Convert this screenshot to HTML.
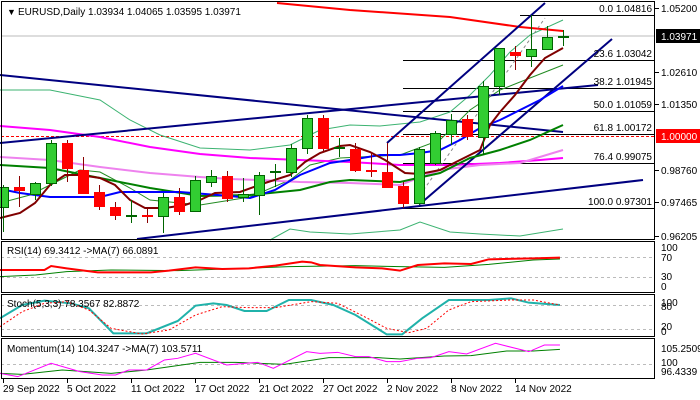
<!DOCTYPE html>
<html><head><meta charset="utf-8"><style>
html,body{margin:0;padding:0;background:#fff;}
svg{display:block;font-family:"Liberation Sans",sans-serif;font-size:10px;}
</style></head><body>
<svg width="700" height="400" viewBox="0 0 700 400" xmlns="http://www.w3.org/2000/svg">
<rect width="700" height="400" fill="#fff"/>
<g fill="none">
<line x1="1" y1="36" x2="655" y2="36" stroke="#bbb" stroke-width="1"/>
<line x1="1" y1="136.5" x2="655" y2="136.5" stroke="#f00" stroke-dasharray="3,2"/>
<g stroke="#000" stroke-width="1">
<line x1="520" y1="15.5" x2="655" y2="15.5"/>
<line x1="403" y1="60.5" x2="655" y2="60.5"/>
<line x1="403" y1="88.5" x2="655" y2="88.5"/>
<line x1="403" y1="111.5" x2="655" y2="111.5"/>
<line x1="403" y1="134.5" x2="655" y2="134.5"/>
<line x1="403" y1="163.5" x2="655" y2="163.5"/>
<line x1="403" y1="208.5" x2="655" y2="208.5"/>
</g>
<g stroke="#3cb371" stroke-width="1">
<polyline points="0,90 50,90 100,100 130,120 160,135 200,148 250,150 290,145 320,130 350,125 380,126 420,122 450,112 470,95 490,75 510,52 530,35 563,20"/>
<polyline points="270,240 290,229 310,232 350,234 400,230 420,222 450,232 480,234 520,236 563,229"/>
</g>
<polyline stroke="#228b22" stroke-width="1" points="0,203 30,195 60,180 80,170 100,172 130,188 150,200 200,205 250,197 290,180 310,165 340,158 400,155 440,140 470,110 500,90 530,78 563,65"/>
<polyline stroke="#ff00ff" stroke-width="2" points="0,126 50,130 100,137 150,147 200,154 250,158 300,160 350,162 400,165 450,165 500,163 540,160 563,158"/>
<polyline stroke="#ee82ee" stroke-width="2" points="0,157 50,160 100,167 150,173 200,177 230,179 260,180 300,182 350,183 400,185 440,170 480,165 520,163 563,150"/>
<polyline stroke="#f00" stroke-width="2" points="277,3 350,10 450,17 520,27 563,31"/>
<g stroke="#000080" stroke-width="2">
<line x1="0" y1="75" x2="563" y2="132"/>
<line x1="0" y1="143" x2="598" y2="85"/>
<line x1="137" y1="239" x2="643" y2="180"/>
<line x1="387" y1="143" x2="545" y2="3"/>
<line x1="420" y1="204" x2="612" y2="39"/>
</g>
<line x1="420" y1="195" x2="545" y2="18" stroke="#888" stroke-dasharray="3,3"/>
<polyline stroke="#008000" stroke-width="2" points="0,165 50,168 100,178 150,188 200,196 250,195 300,190 330,182 350,180 400,182 440,173 470,158 500,150 530,140 563,125"/>
<polyline stroke="#0000ff" stroke-width="2" points="0,189 20,193 50,197 100,197 120,192 180,192 230,196 250,198 275,190 300,175 330,163 350,160 380,155 400,155 420,153 440,150 460,140 480,128 500,120 520,110 540,100 563,86"/>
<polyline stroke="#800000" stroke-width="2" points="0,218 20,213 35,203 50,185 65,175 80,175 100,178 115,185 130,200 145,208 165,208 185,205 200,200 215,193 240,192 265,183 290,175 305,162 320,153 340,146 350,145 370,152 385,160 405,173 420,174 440,170 460,160 480,150 490,125 500,112 515,95 530,75 545,58 563,48"/>
</g>
<g stroke-width="1">
<g stroke="#006400">
<line x1="3.5" y1="185" x2="3.5" y2="232"/><line x1="35.5" y1="182" x2="35.5" y2="200"/><line x1="51.5" y1="140" x2="51.5" y2="186"/>
<line x1="131.5" y1="200" x2="131.5" y2="223"/><line x1="163.5" y1="193" x2="163.5" y2="233"/><line x1="195.5" y1="176" x2="195.5" y2="212"/>
<line x1="211.5" y1="170" x2="211.5" y2="187"/><line x1="243.5" y1="178" x2="243.5" y2="202"/><line x1="259.5" y1="172" x2="259.5" y2="215"/>
<line x1="275.5" y1="164" x2="275.5" y2="187"/><line x1="291.5" y1="144" x2="291.5" y2="177"/><line x1="307.5" y1="115" x2="307.5" y2="154"/>
<line x1="339.5" y1="138" x2="339.5" y2="157"/><line x1="419.5" y1="147" x2="419.5" y2="205"/><line x1="435.5" y1="131" x2="435.5" y2="165"/>
<line x1="451.5" y1="114" x2="451.5" y2="145"/><line x1="483.5" y1="81" x2="483.5" y2="155"/><line x1="499.5" y1="48" x2="499.5" y2="95"/>
<line x1="531.5" y1="15" x2="531.5" y2="67"/><line x1="547.5" y1="26" x2="547.5" y2="50"/><line x1="563.5" y1="30" x2="563.5" y2="46"/>
</g>
<g stroke="#8b0000">
<line x1="19.5" y1="176" x2="19.5" y2="207"/><line x1="67.5" y1="140" x2="67.5" y2="182"/><line x1="83.5" y1="157" x2="83.5" y2="193"/>
<line x1="99.5" y1="185" x2="99.5" y2="210"/><line x1="115.5" y1="202" x2="115.5" y2="220"/><line x1="147.5" y1="208" x2="147.5" y2="223"/>
<line x1="179.5" y1="188" x2="179.5" y2="215"/><line x1="227.5" y1="171" x2="227.5" y2="202"/><line x1="323.5" y1="115" x2="323.5" y2="152"/>
<line x1="355.5" y1="143" x2="355.5" y2="172"/><line x1="371.5" y1="152" x2="371.5" y2="177"/><line x1="387.5" y1="143" x2="387.5" y2="187"/>
<line x1="403.5" y1="182" x2="403.5" y2="208"/><line x1="467.5" y1="115" x2="467.5" y2="140"/><line x1="515.5" y1="46" x2="515.5" y2="70"/>
</g>
<g fill="#32cd32" stroke="#006400">
<rect x="-1.5" y="187.5" width="10" height="20"/><rect x="30.5" y="183.5" width="10" height="11"/><rect x="46.5" y="143.5" width="10" height="40"/>
<rect x="126.5" y="215.5" width="10" height="1"/><rect x="158.5" y="197.5" width="10" height="19"/><rect x="190.5" y="180.5" width="10" height="31"/>
<rect x="206.5" y="176.5" width="10" height="6"/><rect x="238.5" y="194.5" width="10" height="3"/><rect x="254.5" y="175.5" width="10" height="20"/>
<rect x="270.5" y="171.5" width="10" height="1"/><rect x="286.5" y="148.5" width="10" height="24"/><rect x="302.5" y="118.5" width="10" height="30"/>
<rect x="334.5" y="147.5" width="10" height="1"/><rect x="414.5" y="149.5" width="10" height="54"/><rect x="430.5" y="133.5" width="10" height="30"/>
<rect x="446.5" y="120.5" width="10" height="14"/><rect x="478.5" y="86.5" width="10" height="51"/><rect x="494.5" y="48.5" width="10" height="38"/>
<rect x="526.5" y="49.5" width="10" height="7"/><rect x="542.5" y="37.5" width="10" height="12"/><rect x="558.5" y="36.5" width="10" height="1"/>
</g>
<g fill="#f00" stroke="#f00">
<rect x="14.5" y="187.5" width="10" height="3"/><rect x="62.5" y="143.5" width="10" height="25"/><rect x="78.5" y="170.5" width="10" height="23"/>
<rect x="94.5" y="192.5" width="10" height="14"/><rect x="110.5" y="207.5" width="10" height="8"/><rect x="142.5" y="215.5" width="10" height="1"/>
<rect x="174.5" y="197.5" width="10" height="14"/><rect x="222.5" y="176.5" width="10" height="22"/><rect x="318.5" y="118.5" width="10" height="30"/>
<rect x="350.5" y="149.5" width="10" height="21"/><rect x="366.5" y="170.5" width="10" height="1"/><rect x="382.5" y="172.5" width="10" height="15"/>
<rect x="398.5" y="186.5" width="10" height="17"/><rect x="462.5" y="119.5" width="10" height="17"/><rect x="510.5" y="52.5" width="10" height="3"/>
</g>
</g>
<g fill="#000" text-anchor="end" font-size="10">
<text x="652" y="12">0.0 1.04816</text>
<text x="652" y="57">23.6 1.03042</text>
<text x="652" y="85">38.2 1.01945</text>
<text x="652" y="108">50.0 1.01059</text>
<text x="652" y="131">61.8 1.00172</text>
<text x="652" y="160">76.4 0.99075</text>
<text x="652" y="205">100.0 0.97301</text>
</g>
<text x="7" y="15" font-size="9">▼</text>
<text x="18" y="15" fill="#000">EURUSD,Daily  1.03934 1.04065 1.03595 1.03971</text>

<g fill="none" stroke="#bbb" stroke-dasharray="3,3">
<line x1="1" y1="257.5" x2="655" y2="257.5"/><line x1="1" y1="277.5" x2="655" y2="277.5"/>
<line x1="1" y1="305.5" x2="655" y2="305.5"/><line x1="1" y1="329.5" x2="655" y2="329.5"/>
<line x1="1" y1="364.5" x2="655" y2="364.5"/>
</g>
<g fill="none" transform="translate(0,235) scale(0.4444,0.3333)">
<polyline vector-effect="non-scaling-stroke" stroke="#008000" stroke-width="1" points="0,125 80,120 150,110 250,105 400,107 550,100 650,95 800,92 900,95 1000,97 1100,88 1200,75 1260,72"/>
<polyline vector-effect="non-scaling-stroke" stroke="#f00" stroke-width="2" points="0,105 100,105 115,93 150,100 220,112 340,112 380,107 440,97 500,102 560,100 620,92 680,80 700,82 720,90 800,97 860,100 900,107 940,90 1000,85 1060,87 1100,73 1200,70 1260,68"/>
<polyline vector-effect="non-scaling-stroke" stroke="#20b2aa" stroke-width="2" points="0,250 50,210 100,197 160,205 200,220 255,295 330,295 400,258 440,212 480,205 510,210 550,228 600,228 650,195 700,195 750,210 800,240 870,298 905,298 950,250 1010,195 1100,195 1150,190 1190,203 1260,210"/>
<polyline vector-effect="non-scaling-stroke" stroke="#f00" stroke-width="1" stroke-dasharray="2,2" points="0,275 50,230 100,205 150,200 200,225 250,280 320,297 380,285 440,240 500,215 560,218 620,218 700,200 760,205 820,245 870,280 920,293 960,280 1010,225 1060,200 1150,195 1200,195 1260,210"/>
<polyline vector-effect="non-scaling-stroke" stroke="#008000" stroke-width="1" points="0,415 50,418 140,405 250,415 330,405 450,382 530,382 640,388 740,368 850,368 900,372 1000,363 1060,362 1140,348 1200,348 1260,343"/>
<polyline vector-effect="non-scaling-stroke" stroke="#ff00ff" stroke-width="1" points="0,415 40,425 115,385 180,410 230,420 260,420 290,405 330,405 370,375 400,370 440,355 510,390 580,382 615,400 690,350 720,355 760,352 800,365 830,365 870,380 900,380 940,370 970,368 1010,350 1050,357 1115,325 1190,350 1225,330 1260,330"/>
</g>
<g fill="#000" font-size="10">
<text x="7" y="254">RSI(14) 69.3412  -&gt;MA(7) 66.0891</text>
<text x="7" y="307">Stoch(5,3,3) 78.3567 82.8872</text>
<text x="7" y="352">Momentum(14) 104.3247  -&gt;MA(7) 103.5711</text>
</g>
<g fill="none" stroke="#000" stroke-width="1">
<rect x="1.5" y="1.5" width="653" height="238"/>
<rect x="1.5" y="241.5" width="653" height="51"/>
<rect x="1.5" y="294.5" width="653" height="42"/>
<rect x="1.5" y="338.5" width="653" height="40"/>
</g>
<g stroke="#000">
<line x1="655" y1="8.5" x2="659" y2="8.5"/><line x1="655" y1="72.5" x2="659" y2="72.5"/><line x1="655" y1="104.5" x2="659" y2="104.5"/>
<line x1="655" y1="170.5" x2="659" y2="170.5"/><line x1="655" y1="202.5" x2="659" y2="202.5"/><line x1="655" y1="236.5" x2="659" y2="236.5"/>
</g>
<g fill="#000" font-size="10">
<text x="661" y="12">1.05200</text>
<text x="661" y="76">1.02610</text>
<text x="661" y="108">1.01350</text>
<text x="661" y="174">0.98760</text>
<text x="661" y="206">0.97465</text>
<text x="661" y="240">0.96205</text>
</g>
<rect x="656" y="29" width="44" height="14" fill="#000"/>
<text x="661" y="40" fill="#fff" font-size="10">1.03971</text>
<rect x="656" y="129" width="44" height="14" fill="#f00"/>
<text x="661" y="140" fill="#fff" font-size="10">1.00000</text>
<g fill="#000" font-size="10">
<text x="661" y="251">100</text><text x="661" y="261">70</text><text x="661" y="280">30</text><text x="661" y="290">0</text>
<text x="661" y="306">100</text><text x="661" y="310">80</text><text x="661" y="330">20</text><text x="661" y="335">0</text>
<text x="661" y="352">105.2509</text><text x="661" y="366">100</text><text x="661" y="375">96.4339</text>
</g>
<g stroke="#000">
<line x1="3.5" y1="379" x2="3.5" y2="383"/><line x1="67.5" y1="379" x2="67.5" y2="383"/><line x1="131.5" y1="379" x2="131.5" y2="383"/>
<line x1="195.5" y1="379" x2="195.5" y2="383"/><line x1="259.5" y1="379" x2="259.5" y2="383"/><line x1="323.5" y1="379" x2="323.5" y2="383"/>
<line x1="387.5" y1="379" x2="387.5" y2="383"/><line x1="451.5" y1="379" x2="451.5" y2="383"/><line x1="515.5" y1="379" x2="515.5" y2="383"/>
</g>
<g fill="#000" font-size="10">
<text x="3" y="392">29 Sep 2022</text><text x="67" y="392">5 Oct 2022</text><text x="131" y="392">11 Oct 2022</text>
<text x="195" y="392">17 Oct 2022</text><text x="259" y="392">21 Oct 2022</text><text x="323" y="392">27 Oct 2022</text>
<text x="387" y="392">2 Nov 2022</text><text x="451" y="392">8 Nov 2022</text><text x="515" y="392">14 Nov 2022</text>
</g>
</svg>
</body></html>
